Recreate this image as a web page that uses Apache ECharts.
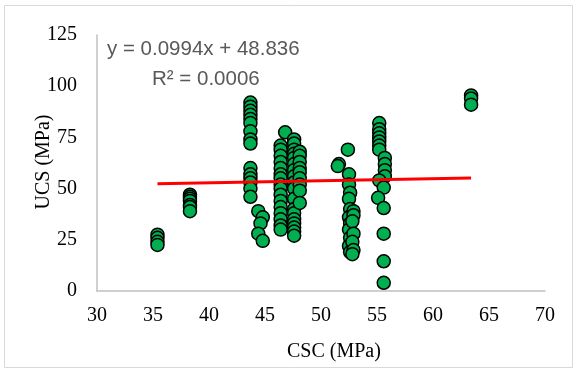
<!DOCTYPE html>
<html>
<head>
<meta charset="utf-8">
<script src="https://cdn.jsdelivr.net/npm/echarts@6/dist/echarts.min.js"></script>
<style>
  html, body { margin: 0; padding: 0; background: #fff; }
  #container { width: 577px; height: 372px; }
</style>
</head>
<body>
<div id="container"></div>
<script>
// CSC (MPa) and UCS (MPa), one pair per point
var cscValues = [
  35.4, 35.4, 35.4, 35.4,
  38.3, 38.3, 38.3, 38.3, 38.3, 38.3, 38.3,
  43.7, 43.7, 43.7, 43.7, 43.7, 43.7, 43.7, 43.7, 43.7, 43.7, 43.7, 43.7, 43.7, 43.7, 43.7,
  44.4, 44.8, 44.6, 44.4, 44.8,
  46.8, 46.4, 46.4, 46.4, 46.4, 46.4, 46.4, 46.4, 46.4, 46.4, 46.4, 46.4, 46.4, 46.4, 46.4, 46.4, 46.4,
  47.6, 47.6, 47.6, 47.6, 47.6, 47.6, 47.6, 47.6, 47.6, 47.6, 47.6, 47.6, 47.6, 47.6, 47.6, 47.6, 47.6, 47.6,
  48.1, 48.1, 48.1, 48.1, 48.1, 48.1, 48.1, 48.1, 48.1,
  51.6, 51.5,
  52.4, 52.5, 52.5, 52.6, 52.5, 52.6, 52.5, 52.6, 52.5, 52.6, 52.5, 52.6,
  52.9, 52.9, 52.8, 52.9, 52.8, 52.9, 52.8,
  55.2, 55.2, 55.2, 55.2, 55.2, 55.2, 55.2,
  55.7, 55.7, 55.7, 55.7, 55.2, 55.6, 55.1, 55.6, 55.6, 55.6, 55.6,
  63.4, 63.4, 63.4
];
var ucsValues = [
  27.5, 26, 24, 22.5,
  47, 46, 45, 44, 42, 41, 39,
  92, 90, 88, 86, 84, 82, 78, 74, 72, 60, 57, 55, 53, 50, 46,
  39, 36, 33, 28, 24.5,
  77.5, 71, 69, 66, 63, 60, 57, 55, 52, 50, 47, 44, 41, 38, 35, 32, 30,
  74, 72, 69, 67, 65, 62, 59, 56, 53, 50, 45, 40, 38, 35, 33, 31, 29, 27,
  68, 66, 63, 60, 58, 55, 52, 49, 43,
  62, 61,
  69, 57, 52, 48, 45, 40, 36, 33, 30, 26, 22, 19,
  39, 37, 34, 28, 24, 20, 18,
  82, 79, 77, 75, 73, 71, 69,
  65, 62, 59, 56, 54, 50.5, 45.5, 40.5, 28, 14.5, 4,
  95.5, 94, 91
];
var trendSlope = 0.0994;
var trendIntercept = 48.836;
var xTicks = [30, 35, 40, 45, 50, 55, 60, 65, 70];
var yTicks = [0, 25, 50, 75, 100, 125];

var points = cscValues.map(function (x, i) { return [x, ucsValues[i]]; });
var xMin = Math.min.apply(null, cscValues);
var xMax = Math.max.apply(null, cscValues);
var trend = [
  [xMin, trendSlope * xMin + trendIntercept],
  [xMax, trendSlope * xMax + trendIntercept]
];

var chart = echarts.init(document.getElementById('container'));
var option = {
  backgroundColor: '#ffffff',
  animation: false,
  grid: { left: 97, right: 32, top: 35, bottom: 81 },
  xAxis: {
    type: 'value',
    min: xTicks[0],
    max: xTicks[xTicks.length - 1],
    interval: 5,
    splitLine: { show: false },
    axisTick: { show: false },
    axisLine: { show: true, onZero: false, lineStyle: { color: '#c0c0c0', width: 1.5 } },
    axisLabel: { color: '#000', fontFamily: 'Liberation Serif', fontSize: 20, margin: 15 }
  },
  yAxis: {
    type: 'value',
    min: yTicks[0],
    max: yTicks[yTicks.length - 1],
    interval: 25,
    splitLine: { show: false },
    axisTick: { show: false },
    axisLine: { show: true, lineStyle: { color: '#c0c0c0', width: 1.5 } },
    axisLabel: { color: '#000', fontFamily: 'Liberation Serif', fontSize: 20, margin: 20 }
  },
  graphic: [
    {
      type: 'rect', z: -1,
      shape: { x: 4.5, y: 5.5, width: 568, height: 362 },
      style: { fill: 'none', stroke: '#d9d9d9', lineWidth: 1 }
    },
    {
      type: 'text', left: 287, top: 342,
      style: { text: 'CSC (MPa)', fill: '#000', font: '20px "Liberation Serif"' }
    },
    {
      // y axis title, rotated
      type: 'text', x: 44, y: 162, rotation: Math.PI / 2,
      style: { text: 'UCS (MPa)', fill: '#000', font: '20px "Liberation Serif"', align: 'center', verticalAlign: 'middle' }
    },
    {
      type: 'text', left: 107, top: 39,
      style: { text: 'y = 0.0994x + 48.836', fill: '#595959', font: '20.5px "Liberation Sans"' }
    },
    {
      type: 'text', left: 152, top: 69,
      style: { text: 'R² = 0.0006', fill: '#595959', font: '20.5px "Liberation Sans"' }
    }
  ],
  series: [
    {
      type: 'scatter',
      data: points,
      symbol: 'circle',
      symbolSize: 13,
      itemStyle: { color: '#00b050', borderColor: '#000', borderWidth: 1.5, opacity: 1 }
    },
    {
      type: 'line',
      data: trend,
      symbol: 'none',
      z: 5,
      lineStyle: { color: '#ff0000', width: 3 }
    }
  ]
};
chart.setOption(option);
</script>
</body>
</html>
